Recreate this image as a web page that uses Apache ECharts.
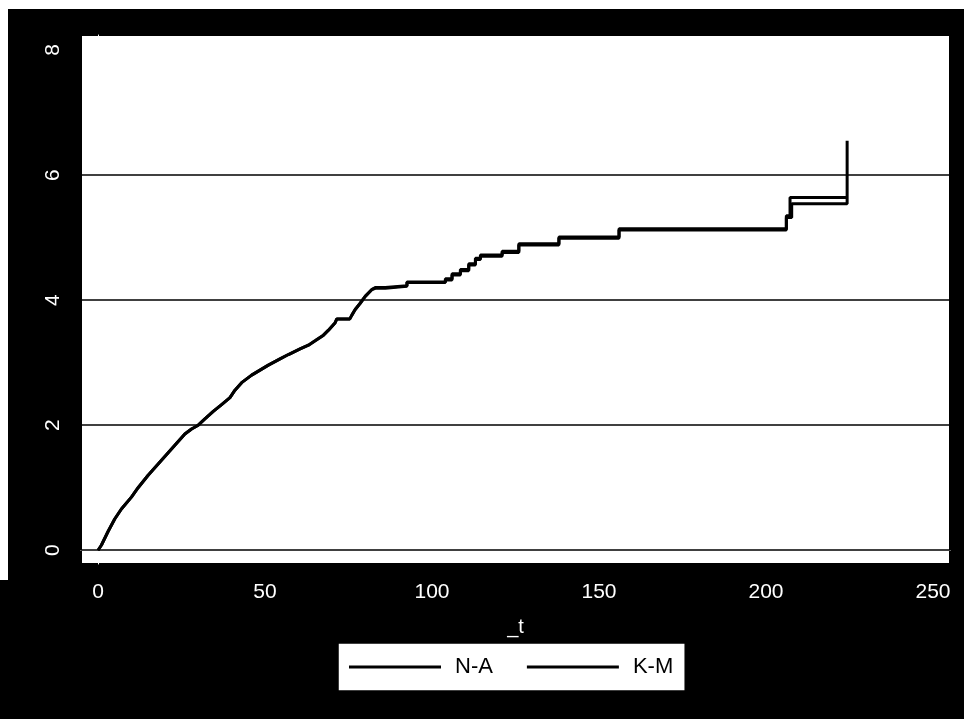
<!DOCTYPE html>
<html>
<head>
<meta charset="utf-8">
<script src="https://cdn.jsdelivr.net/npm/echarts@6/dist/echarts.min.js"></script>
<style>
html,body{margin:0;padding:0;background:#000;}
#c{width:964px;height:719px;}
</style>
</head>
<body>
<div id="c"></div>
<script>
// Analysis time (_t) and cumulative hazard estimates.
// A repeated time marks a vertical jump of the step function.
const naTimes  = [0, 1, 3, 5, 7, 10, 12, 15, 18, 20, 23, 26, 28, 30, 32, 34.5, 37, 39.5, 41, 43, 46, 48.5, 51, 54.5, 57, 60.5, 63, 65, 67.5, 69, 71, 71.5, 75.4, 76, 77, 78.5, 80, 82, 83, 86, 86, 92.5, 92.5, 104, 104, 106, 106, 108.5, 108.5, 111, 111, 113, 113, 114.5, 114.5, 121, 121, 126, 126, 138, 138, 156, 156, 206.1, 206.1, 207.7, 207.7, 224.3, 224.3];
const naValues = [0, 0.08, 0.3, 0.5, 0.66, 0.85, 1.0, 1.2, 1.38, 1.5, 1.68, 1.86, 1.94, 2.0, 2.1, 2.22, 2.33, 2.44, 2.56, 2.68, 2.8, 2.88, 2.96, 3.06, 3.13, 3.22, 3.28, 3.35, 3.44, 3.52, 3.64, 3.7, 3.7, 3.76, 3.85, 3.95, 4.06, 4.17, 4.19, 4.19, 4.22, 4.22, 4.28, 4.28, 4.32, 4.32, 4.4, 4.4, 4.47, 4.47, 4.56, 4.56, 4.65, 4.65, 4.7, 4.7, 4.76, 4.76, 4.88, 4.88, 4.99, 4.99, 5.12, 5.12, 5.32, 5.32, 5.54, 5.54, 6.55];
const kmTimes  = [0, 1, 3, 5, 7, 10, 12, 15, 18, 20, 23, 26, 28, 30, 32, 34.5, 37, 39.5, 41, 43, 46, 48.5, 51, 54.5, 57, 60.5, 63, 65, 67.5, 69, 71, 71.5, 75.4, 76, 77, 78.5, 80, 82, 83, 86, 86, 92.5, 92.5, 104, 104, 106, 106, 108.5, 108.5, 111, 111, 113, 113, 114.5, 114.5, 121, 121, 126, 126, 138, 138, 156, 156, 206.1, 206.1, 207.2, 207.2, 224.3];
const kmValues = [0, 0.08, 0.3, 0.5, 0.66, 0.85, 1.0, 1.2, 1.38, 1.5, 1.68, 1.86, 1.94, 2.0, 2.1, 2.22, 2.33, 2.44, 2.56, 2.68, 2.8, 2.88, 2.96, 3.06, 3.13, 3.22, 3.28, 3.35, 3.44, 3.52, 3.64, 3.7, 3.7, 3.76, 3.85, 3.95, 4.06, 4.17, 4.2, 4.2, 4.23, 4.23, 4.29, 4.29, 4.34, 4.34, 4.42, 4.42, 4.49, 4.49, 4.58, 4.58, 4.67, 4.67, 4.72, 4.72, 4.78, 4.78, 4.9, 4.9, 5.01, 5.01, 5.14, 5.14, 5.35, 5.35, 5.64, 5.64];
const seriesNames = ['N-A', 'K-M'];
const xTicks = [0, 50, 100, 150, 200, 250];
const yTicks = [0, 2, 4, 6, 8];
const yGrid = [0, 2, 4, 6];

const zip = (a, b) => a.map((t, i) => [t, b[i]]);
const chart = echarts.init(document.getElementById('c'), null, {renderer: 'canvas'});
const font = '"Liberation Sans", Arial, sans-serif';

chart.setOption({
  animation: false,
  backgroundColor: '#000',
  graphic: [
    {type: 'rect', shape: {x: 0, y: 0, width: 964, height: 9}, style: {fill: '#fff'}, silent: true},
    {type: 'rect', shape: {x: 0, y: 0, width: 8, height: 580}, style: {fill: '#fff'}, silent: true}
  ],
  grid: {
    left: 81, top: 35, right: 14, bottom: 155,
    show: true, backgroundColor: '#fff', borderColor: '#000', borderWidth: 2
  },
  legend: {
    data: seriesNames,
    left: 338, top: 643,
    orient: 'horizontal',
    backgroundColor: '#fff',
    borderColor: '#000', borderWidth: 1.5, borderRadius: 0,
    padding: [13, 12, 13, 11],
    icon: 'rect',
    itemWidth: 92, itemHeight: 3, itemGap: 34,
    itemStyle: {color: '#000'},
    textStyle: {color: '#000', fontSize: 22, fontFamily: font, padding: [0, 0, 0, 9]}
  },
  xAxis: {
    type: 'value',
    min: -5.1, max: 255.1,
    offset: 3,
    name: '_t',
    nameLocation: 'middle',
    nameGap: 50,
    nameTextStyle: {color: '#fff', fontSize: 20, fontFamily: font},
    axisLine: {show: true, lineStyle: {color: '#fff', width: 1}},
    axisTick: {show: true, customValues: xTicks, length: 10, lineStyle: {color: '#fff', width: 2}},
    axisLabel: {customValues: xTicks, color: '#fff', fontSize: 21, fontFamily: font, margin: 15},
    splitLine: {show: false}
  },
  yAxis: {
    type: 'value',
    min: -0.22, max: 8.24,
    offset: 3,
    axisLine: {show: true, lineStyle: {color: '#fff', width: 1}},
    axisTick: {show: true, customValues: yTicks, length: 10, lineStyle: {color: '#fff', width: 2}},
    axisLabel: {customValues: yTicks, color: '#fff', fontSize: 21, fontFamily: font, rotate: 90, margin: 14},
    splitLine: {show: false}
  },
  series: [
    {
      name: seriesNames[0], type: 'line', symbol: 'none',
      data: zip(naTimes, naValues),
      lineStyle: {color: '#000', width: 3},
      itemStyle: {color: '#000'},
      z: 3,
      markLine: {
        silent: true, symbol: ['none', 'none'], label: {show: false},
        lineStyle: {color: '#000', type: 'solid', width: 1.5},
        data: yGrid.map(v => ({yAxis: v}))
      }
    },
    {
      name: seriesNames[1], type: 'line', symbol: 'none',
      data: zip(kmTimes, kmValues),
      lineStyle: {color: '#000', width: 3},
      itemStyle: {color: '#000'},
      z: 3
    }
  ]
});
</script>
</body>
</html>
